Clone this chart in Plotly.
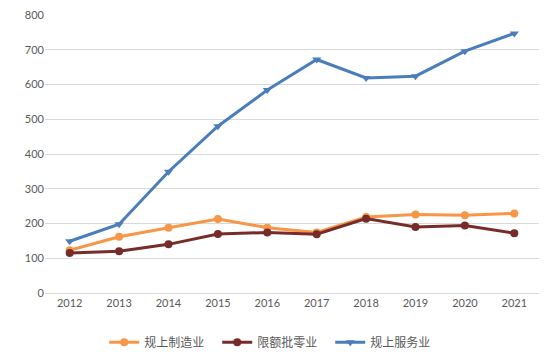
import plotly.graph_objects as go

years = ["2012", "2013", "2014", "2015", "2016", "2017", "2018", "2019", "2020", "2021"]
manufacturing = [123, 162, 188, 213, 188, 174, 219, 226, 224, 229]
retail = [115, 120, 140, 170, 174, 169, 214, 190, 194, 172]
services = [149, 198, 349, 480, 584, 672, 619, 624, 696, 747]

names = ["规上制造业", "限额批零业", "规上服务业"]
colors = ["#F79646", "#772C2A", "#4A7EBB"]
symbols = ["circle", "circle", "triangle-down"]

fig = go.Figure()
for name, vals, c, s in zip(names, [manufacturing, retail, services], colors, symbols):
    fig.add_trace(go.Scatter(
        x=years, y=vals, name=name, mode="lines+markers",
        line=dict(color=c, width=3),
        marker=dict(symbol=s, size=8, color=c),
    ))

fig.update_layout(
    width=554, height=355,
    margin=dict(l=45, r=15, t=15, b=62, autoexpand=False),
    paper_bgcolor="white", plot_bgcolor="white",
    font=dict(family="Lato, Liberation Sans, sans-serif", size=11, color="#595959"),
    showlegend=True,
    legend=dict(orientation="h", x=0.463, xanchor="center", y=-0.177, yanchor="middle",
                font=dict(family="Noto Sans CJK SC", size=12, color="#595959"),
                itemwidth=30, entrywidth=68, traceorder="normal"),
    xaxis=dict(type="category", range=[-0.5, len(years) - 0.5], showgrid=False,
               showline=True, linecolor="#D9D9D9", ticks="", tickfont=dict(size=11)),
    yaxis=dict(range=[0, 800], dtick=100, showgrid=True, gridcolor="#D9D9D9",
               zeroline=False, showline=False, ticks="", tickfont=dict(size=11)),
)

fig.write_html("out.html", config={"displayModeBar": False},
               post_script="document.body.style.margin='0';document.body.style.overflow='hidden';")
